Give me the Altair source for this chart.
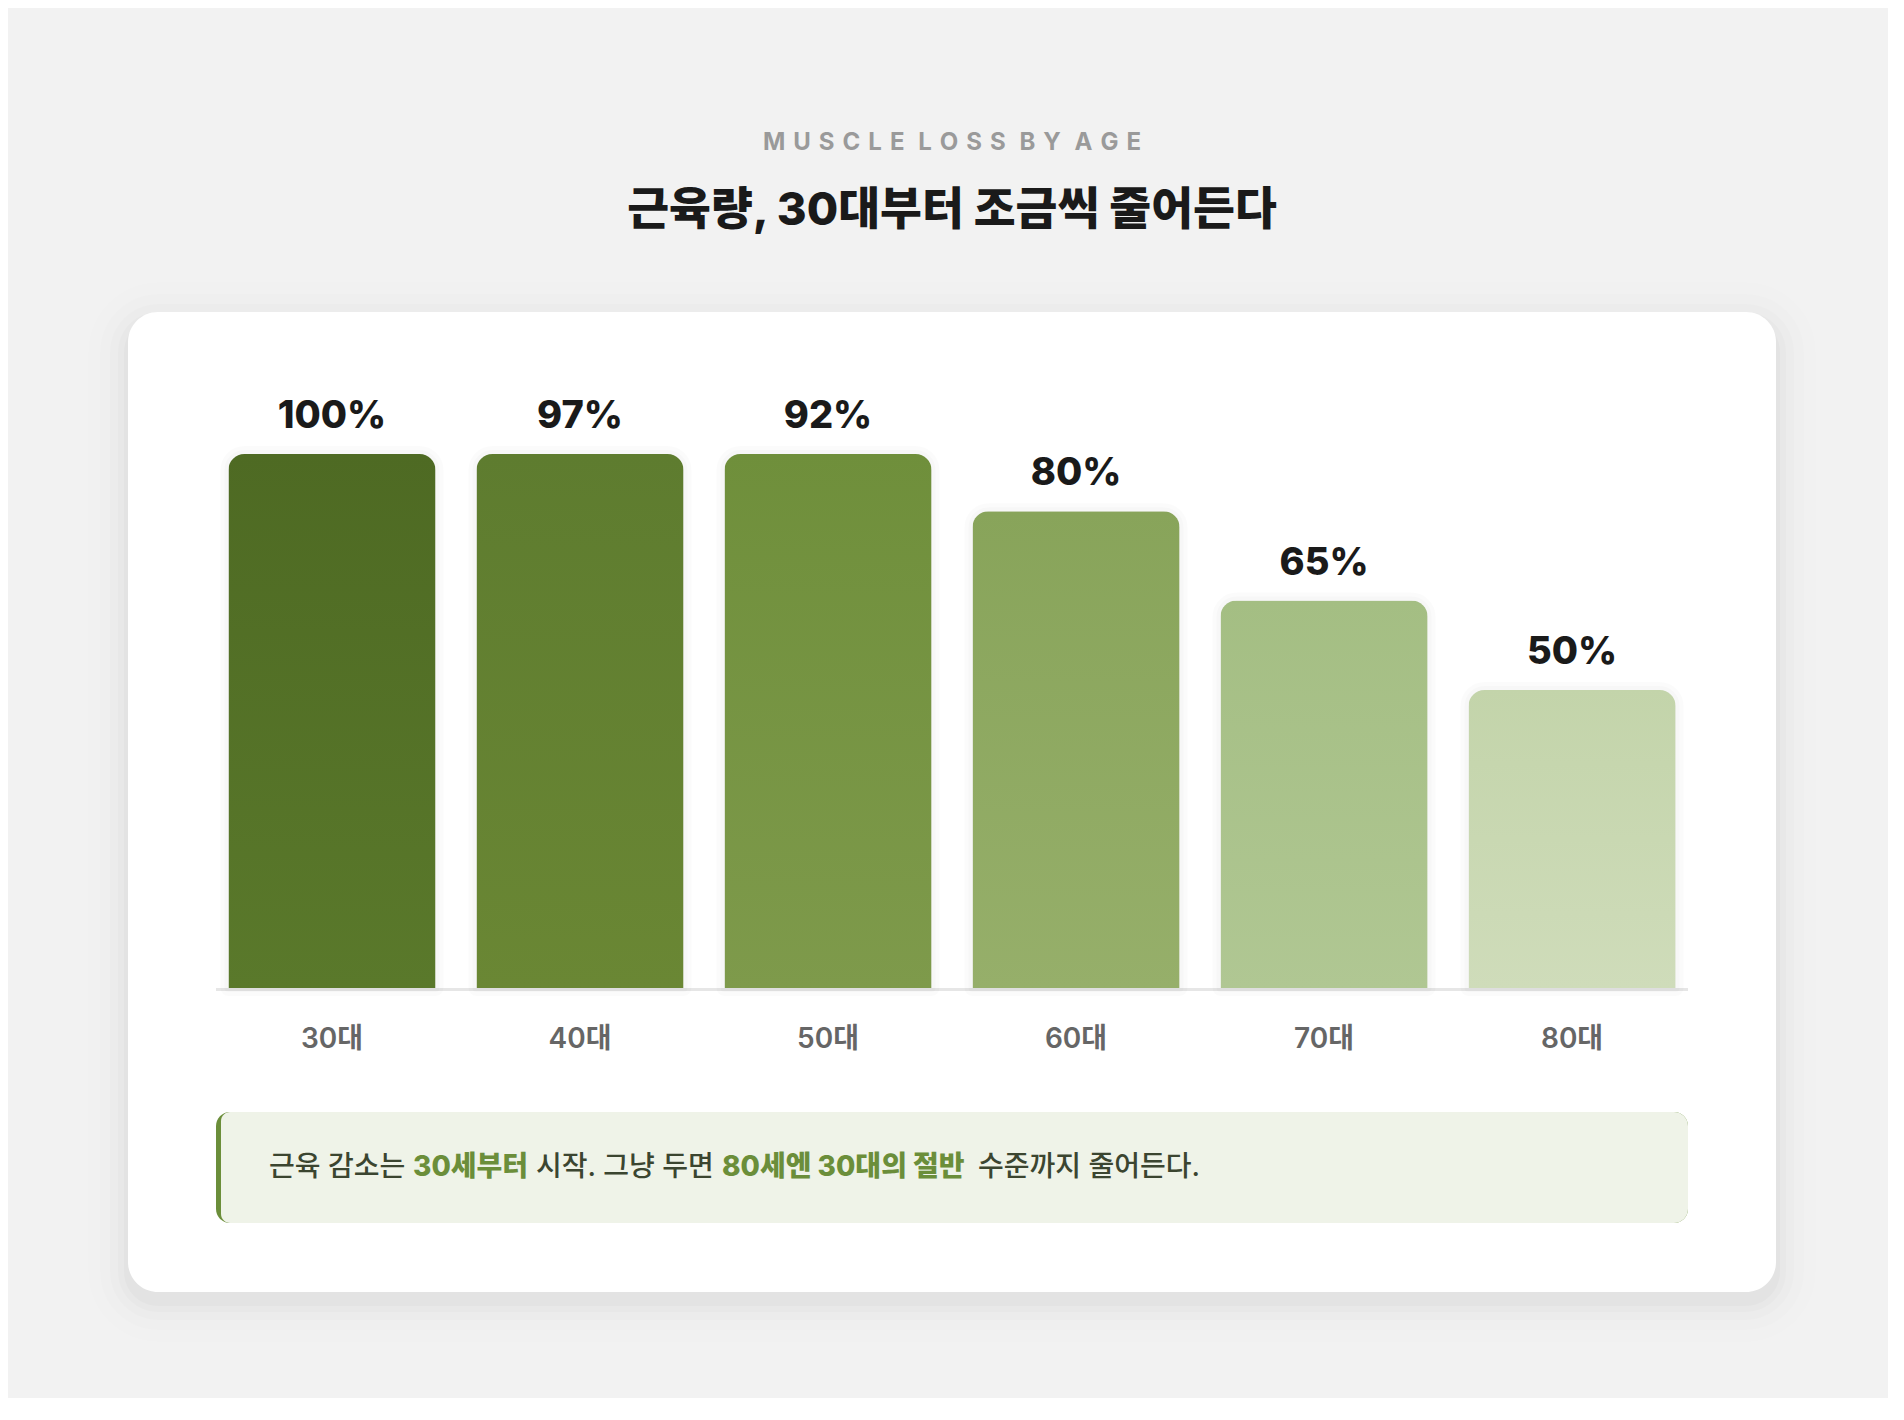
"""Muscle loss by age — rounded gradient bars on a white card."""

import altair as alt
import pandas as pd

# data
AGES = ["30대", "40대", "50대", "60대", "70대", "80대"]
MUSCLE = [100, 97, 92, 80, 65, 50]

SP = "\u2004"
KICKER = (" " + SP).join(SP.join(w) for w in ["MUSCLE", "LOSS", "BY", "AGE"])
TITLE = "근육량, 30대부터 조금씩 줄어든다"
NOTE_PARTS = ["근육 감소는", "30세부터", "시작. 그냥 두면", "80세엔 30대의 절반", "수준까지 줄어든다."]
NOTE_BOLD = [False, True, False, True, False]

# style
TOP_COLORS = ["#4e6a23", "#5e7c2f", "#6f8f3b", "#88a45a", "#a4be83", "#c3d4aa"]
BOTTOM_COLORS = ["#5a792b", "#6a8734", "#7e9a4b", "#96af6a", "#b0c793", "#cfdcba"]
GREEN = "#6b8e3a"
FONT = "Inter, 'Noto Sans CJK KR', sans-serif"

W, H = 1472, 534
CX = 736  # horizontal centre of the page, in plot coordinates

df = pd.DataFrame({"age": AGES, "muscle": MUSCLE})
df["label"] = [f"{v}%" for v in MUSCLE]
one = pd.DataFrame({"k": [0]})

x_enc = alt.X(
    "age:N",
    sort=AGES,
    scale=alt.Scale(domain=AGES, paddingInner=0.165, paddingOuter=0.05),
    axis=alt.Axis(
        title=None, domain=False, ticks=False, tickSize=0, labelAngle=0,
        labelPadding=51.5, labelBaseline="middle", labelFont=FONT,
        labelFontSize=28, labelFontWeight=600, labelColor="#666666", zindex=1,
    ),
)
y_enc = alt.Y("muscle:Q", scale=alt.Scale(domain=[0, 89.6], clamp=True), axis=None)


def box(x, x2, y, y2, **mark):
    return alt.Chart(one).mark_rect(**mark).encode(
        x=alt.value(x), x2=alt.value(x2), y=alt.value(y), y2=alt.value(y2)
    )


def text(s, x, y, **mark):
    return alt.Chart(pd.DataFrame({"t": [s]})).mark_text(font=FONT, **mark).encode(
        text="t:N", x=alt.value(x), y=alt.value(y)
    )


layers = []

# soft card shadow
for grow, op in [(4, 0.018), (10, 0.014), (18, 0.01), (28, 0.007), (40, 0.005)]:
    layers.append(box(-88 - grow, 1560 + grow, -142 - grow + 10, 838 + grow + 10,
                      color="#000000", opacity=op, cornerRadius=30 + grow))

# card
layers.append(box(-88, 1560, -142, 838, color="#ffffff", cornerRadius=30))

# baseline
layers.append(
    alt.Chart(one).mark_rule(color="#e6e6e6", strokeWidth=3).encode(
        x=alt.value(0), x2=alt.value(W), y=alt.value(H + 1.5)
    )
)

# faint halo round the bars
for sw in (16, 8):
    layers.append(
        alt.Chart(df).mark_bar(
            fill="#000000", fillOpacity=0.0, stroke="#000000", strokeOpacity=0.016,
            strokeWidth=sw, strokeJoin="round",
            cornerRadiusTopLeft=16, cornerRadiusTopRight=16,
        ).encode(x=x_enc, y=y_enc)
    )

# bars, one gradient each
for age, c1, c2 in zip(AGES, TOP_COLORS, BOTTOM_COLORS):
    grad = alt.Gradient(
        gradient="linear",
        stops=[alt.GradientStop(offset=0, color=c1), alt.GradientStop(offset=1, color=c2)],
        x1=0, x2=0, y1=0, y2=1,
    )
    layers.append(
        alt.Chart(df).transform_filter(alt.datum.age == age).mark_bar(
            color=grad, cornerRadiusTopLeft=16, cornerRadiusTopRight=16,
        ).encode(x=x_enc, y=y_enc)
    )

# value labels
layers.append(
    alt.Chart(df).mark_text(
        font=FONT, fontSize=38, fontWeight=800, color="#1a1a1a",
        baseline="middle", dy=-37,
    ).encode(x=x_enc, y=y_enc, text="label:N")
)

# callout box with left accent
layers.append(box(0, W, 658, 769, color=GREEN, cornerRadius=14))
layers.append(box(5, W, 658, 769, color="#eff3e8", cornerRadiusTopLeft=9,
                  cornerRadiusBottomLeft=9, cornerRadiusTopRight=14,
                  cornerRadiusBottomRight=14))

note_x = [53, 197, 320, 506, 762]
for part, bold, nx in zip(NOTE_PARTS, NOTE_BOLD, note_x):
    layers.append(text(
        part, nx, 714, align="left", baseline="middle", fontSize=28,
        fontWeight=800 if bold else 500, color=GREEN if bold else "#3b4530",
    ))

# headings
layers.append(text(KICKER, CX, -311, align="center", baseline="middle",
                   fontSize=24, fontWeight=700, color="#9a9a9a"))
layers.append(text(TITLE, CX, -243, align="center", baseline="middle",
                   fontSize=45.5, fontWeight=800, color="#1a1a1a"))

chart = (
    alt.layer(*layers)
    .properties(
        width=W, height=H,
        padding={"left": 208, "top": 446, "right": 200, "bottom": 410},
        autosize=alt.AutoSizeParams(type="none"),
        background="#f2f2f2",
    )
    .configure_view(stroke=None)
)

chart.save("out.html", embed_options={"renderer": "svg", "actions": False})
